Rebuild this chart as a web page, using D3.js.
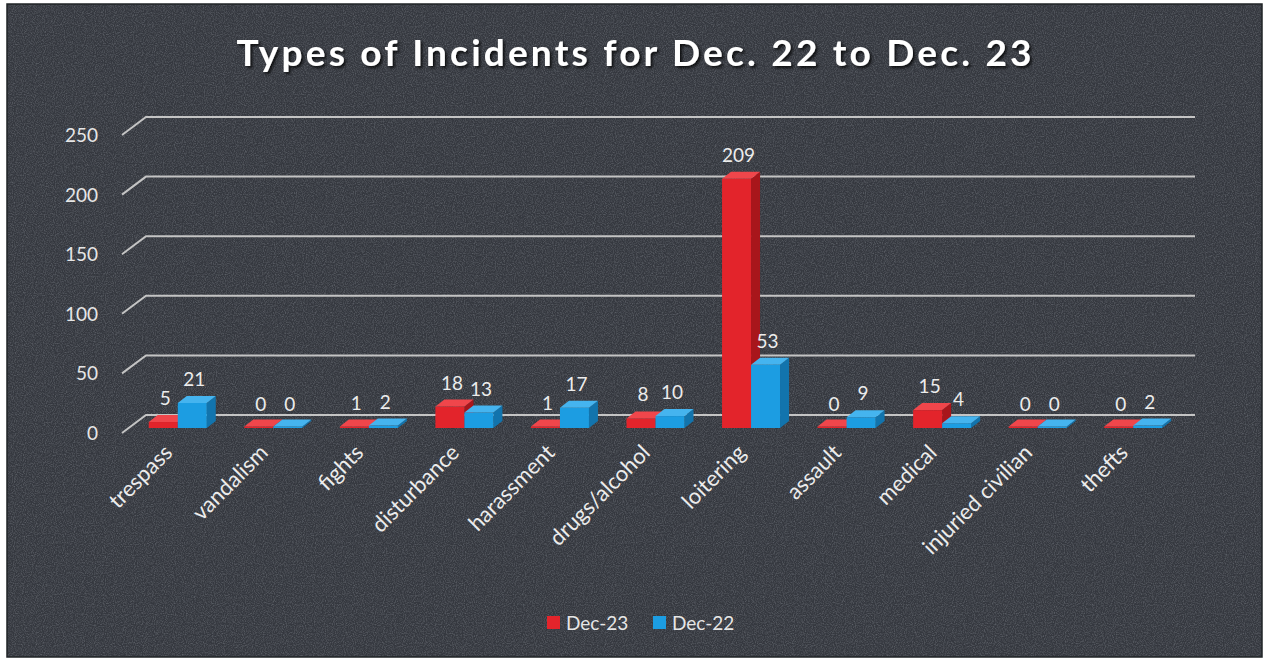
<!DOCTYPE html>
<html>
<head>
<meta charset="utf-8">
<script src="https://cdn.jsdelivr.net/npm/d3@7"></script>
<style>
  html, body { margin: 0; padding: 0; background: #ffffff; }
  svg { display: block; }
  text { font-family: Lato, "Open Sans", sans-serif; }
</style>
</head>
<body>
<svg id="chart" width="1267" height="660"></svg>
<script>
// ---- data ----
const categories = ["trespass", "vandalism", "fights", "disturbance", "harassment",
  "drugs/alcohol", "loitering", "assault", "medical", "injuried civilian", "thefts"];
const seriesNames = ["Dec-23", "Dec-22"];
const dec23 = [5, 0, 1, 18, 1, 8, 209, 0, 15, 0, 0];
const dec22 = [21, 0, 2, 13, 17, 10, 53, 9, 4, 0, 2];
const yTicks = [0, 50, 100, 150, 200, 250];
const titleText = "Types of Incidents for Dec. 22 to Dec. 23";

const W = 1267, H = 660;
const svg = d3.select("#chart");

// filters / background
const defs = svg.append("defs");
const f = defs.append("filter").attr("id", "noise").attr("x", 0).attr("y", 0).attr("width", "100%").attr("height", "100%");
f.append("feTurbulence").attr("type", "fractalNoise").attr("baseFrequency", 0.9).attr("numOctaves", 2).attr("seed", 3).attr("result", "n");
f.append("feColorMatrix").attr("in", "n").attr("type", "matrix")
  .attr("values", "0 0 0 0 0.25  0 0 0 0 0.27  0 0 0 0 0.3  0.9 0 0 0 -0.35").attr("result", "nc");
f.append("feComposite").attr("in", "nc").attr("in2", "SourceGraphic").attr("operator", "in");
const sh = defs.append("filter").attr("id", "tshadow").attr("x", "-10%").attr("y", "-30%").attr("width", "120%").attr("height", "160%");
sh.append("feDropShadow").attr("dx", 2).attr("dy", 2).attr("stdDeviation", 1.5).attr("flood-color", "#000").attr("flood-opacity", 0.8);

svg.append("rect").attr("x", 7).attr("y", 4).attr("width", 1255).attr("height", 653).attr("fill", "#35383f");
svg.append("rect").attr("x", 7).attr("y", 4).attr("width", 1255).attr("height", 653).attr("fill", "#35383f").attr("filter", "url(#noise)");
svg.append("rect").attr("x", 7).attr("y", 4).attr("width", 1255).attr("height", 653).attr("fill", "none").attr("stroke", "#1f2326").attr("stroke-width", 1.5);

// ---- scales ----
const depthX = 24, depthY = -18;       // wall depth (front -> back)
const frontLeft = 122, backRight = 1195;
const y = d3.scaleLinear().domain([0, 250]).range([433, 135]);   // front plane
const x = d3.scaleBand().domain(categories).range([132, 1183]);

// gridlines on back wall with diagonal side wall segment
const grid = svg.append("g");
yTicks.forEach(t => {
  const yf = y(t);
  grid.append("path")
    .attr("d", `M${frontLeft},${yf} L${frontLeft + depthX},${yf + depthY} L${backRight},${yf + depthY}`)
    .attr("fill", "none").attr("stroke", "#c4c4c4").attr("stroke-width", 2);
});

// y tick labels
svg.append("g").selectAll("text").data(yTicks).join("text")
  .attr("x", 98).attr("y", d => y(d) + 7)
  .attr("text-anchor", "end").attr("fill", "#e6e6e6").attr("font-size", 19)
  .text(d => d);

// ---- 3D bars ----
const barW = 29, bdx = 9, bdy = -7, baseShift = -5;
const yb = v => y(v) + baseShift;
const colors = [
  { front: "#e3242b", side: "#a8161b", top: "#f0464b" },
  { front: "#1c9de2", side: "#1274ad", top: "#45b4ef" }
];
const series = [dec23, dec22];
const barsG = svg.append("g");
series.forEach((vals, si) => {
  const c = colors[si];
  const g = barsG.append("g");
  categories.forEach((cat, i) => {
    const cx = x(cat) + x.bandwidth() / 2;
    const x0 = cx - 31 + si * barW;
    const x1 = x0 + barW;
    const y0 = yb(0);
    const yt = Math.min(yb(vals[i]), y0 - 1.5);
    // side face
    g.append("path").attr("d",
      `M${x1},${yt} L${x1 + bdx},${yt + bdy} L${x1 + bdx},${y0 + bdy} L${x1},${y0} Z`).attr("fill", c.side);
    // front face
    g.append("rect").attr("x", x0).attr("y", yt).attr("width", barW).attr("height", y0 - yt).attr("fill", c.front);
    // top face
    g.append("path").attr("d",
      `M${x0},${yt} L${x0 + bdx},${yt + bdy} L${x1 + bdx},${yt + bdy} L${x1},${yt} Z`).attr("fill", c.top);
  });
});

// data labels
series.forEach((vals, si) => {
  svg.append("g").selectAll("text").data(vals).join("text")
    .attr("x", (d, i) => x(categories[i]) + x.bandwidth() / 2 - 31 + si * barW + barW / 2 + 2)
    .attr("y", d => yb(d) + bdy - 10)
    .attr("text-anchor", "middle").attr("fill", "#ececec").attr("font-size", 19)
    .text(d => d);
});

// category labels
svg.append("g").selectAll("text").data(categories).join("text")
  .attr("transform", d => `translate(${x(d) + x.bandwidth() / 2 - 6},${454}) rotate(-45)`)
  .attr("text-anchor", "end").attr("fill", "#ececec").attr("font-size", 22)
  .text(d => d);

// title
svg.append("text").attr("x", 634).attr("y", 66).attr("text-anchor", "middle")
  .attr("fill", "#ffffff").attr("font-size", 37).attr("font-weight", "bold")
  .attr("textLength", 795).attr("lengthAdjust", "spacing")
  .attr("filter", "url(#tshadow)")
  .text(titleText);

// legend
const legend = svg.append("g");
const legendX = [547, 653];
seriesNames.forEach((name, i) => {
  legend.append("rect").attr("x", legendX[i]).attr("y", 616).attr("width", 13).attr("height", 13)
    .attr("fill", colors[i].front);
  legend.append("text").attr("x", legendX[i] + 19).attr("y", 630)
    .attr("fill", "#e6e6e6").attr("font-size", 19).text(name);
});
</script>
</body>
</html>
